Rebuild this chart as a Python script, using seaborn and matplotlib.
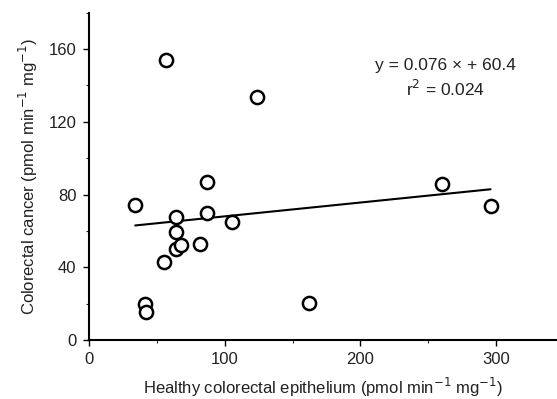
import numpy as np
import pandas as pd
import matplotlib
matplotlib.use("Agg")
import matplotlib.pyplot as plt
from matplotlib.ticker import MultipleLocator
import seaborn as sns

healthy = [57, 123.5, 87, 34, 64, 87, 105, 64, 64, 68, 82, 55, 41, 42, 162, 296, 260]
cancer = [154, 133.5, 87, 74, 67.5, 70, 65, 59.5, 50, 52.5, 53, 43, 19.8, 15.5, 20.4, 73.6, 85.7]
slope, intercept = 0.076, 60.4
r2 = 0.024

df = pd.DataFrame({"healthy": healthy, "cancer": cancer})
xfit = np.array([min(healthy), max(healthy)])
fit = pd.DataFrame({"x": xfit, "y": slope * xfit + intercept})

sns.set_style("ticks")
plt.rcParams['font.family'] = ['Liberation Sans', 'DejaVu Sans']

fig = plt.figure(figsize=(5.57, 3.99), dpi=100)
ax = fig.add_axes([0.16, 0.148, 0.84, 0.82])

sns.lineplot(data=fit, x="x", y="y", color="black", linewidth=1.5, ax=ax)
sns.scatterplot(data=df, x="healthy", y="cancer", s=90, facecolor="white",
                edgecolor="black", linewidth=1.8, marker="o", ax=ax, zorder=3)

ax.set_xlim(0, 345)
ax.set_ylim(0, 180)
ax.xaxis.set_major_locator(MultipleLocator(100))
ax.xaxis.set_minor_locator(MultipleLocator(50))
ax.yaxis.set_major_locator(MultipleLocator(40))
ax.yaxis.set_minor_locator(MultipleLocator(20))
ax.tick_params(which="major", length=4, width=1, labelsize=12, color="black", labelcolor="#222222", pad=5)
ax.tick_params(which="minor", length=2.5, width=0.8)
sns.despine(ax=ax)
for s in ["left", "bottom"]:
    ax.spines[s].set_linewidth(1.5)
    ax.spines[s].set_color("black")

ax.set_xlabel("Healthy colorectal epithelium (pmol min$^{-1}$ mg$^{-1}$)", fontsize=12, color="#222222", labelpad=6)
ax.set_ylabel("Colorectal cancer (pmol min$^{-1}$ mg$^{-1}$)", fontsize=12, color="#222222", labelpad=6)

ax.text(263, 151, f"y = {slope} \u00d7 + {intercept}", ha="center", va="center", fontsize=12.5, color="#222222")
ax.text(263, 138, f"r$^2$ = {r2}", ha="center", va="center", fontsize=12.5, color="#222222")

fig.savefig("out.png", dpi=100)
